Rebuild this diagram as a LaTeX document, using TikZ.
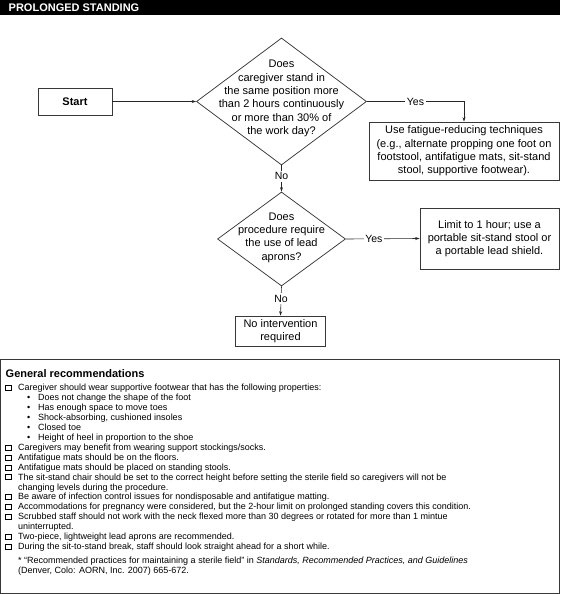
\documentclass[tikz,border=0pt]{standalone}
\usepackage{fontspec}
\setmainfont{Liberation Sans}
\usetikzlibrary{shapes.geometric,arrows.meta}
\newcommand\PSbox{\raisebox{0.6pt}{\setlength{\fboxsep}{0pt}\setlength{\fboxrule}{0.5pt}\framebox[6.5pt]{\rule{0pt}{4.5pt}}}}
\newcommand\PSsq{\makebox[13pt][l]{\PSbox}}
\newcommand\PSsub{\makebox[22pt]{}\makebox[11pt][l]{\textbullet}}
\newcommand\PScont{\makebox[13pt]{}}
\begin{document}
\begin{tikzpicture}[x=1pt,y=-1pt,
  every node/.style={inner sep=0pt},
  bx/.style={draw=black!78, line width=0.75pt, align=center, font=\fontsize{11}{13.3}\selectfont},
  dia/.style={shape=diamond, draw=black!78, line width=0.75pt},
  dtext/.style={align=center, font=\fontsize{11}{13.3}\selectfont},
  lbl/.style={fill=white, inner sep=1.5pt, font=\fontsize{10.5}{12}\selectfont},
  arr/.style={draw=black!85, line width=0.6pt, -{Stealth[length=4.5pt,width=3pt]}},
  rec/.style={anchor=base west, font=\fontsize{9}{10}\selectfont},
]
\useasboundingbox (0,0) rectangle (560,594);
% title bar
\node[fill=black, minimum width=560pt, minimum height=15pt, anchor=north west] (bar) at (0,0) {};
\node[anchor=west, text=white, font=\bfseries\fontsize{11}{13}\selectfont] (title) at (8.5,7.6) {PROLONGED STANDING};
% flowchart
\node[bx, minimum width=74pt, minimum height=27pt, font=\bfseries\fontsize{11}{13}\selectfont] (start) at (75,101.5) {Start};
\node[dia, minimum width=170pt, minimum height=127pt] (d1) at (281.5,101.5) {};
\node[dtext] (d1t) at (281.5,98.5) {Does\\caregiver stand in\\the same position more\\than 2 hours continuously\\or more than 30\% of\\the work day?};
\node[bx, minimum width=190pt, minimum height=58pt] (b1) at (464,151) {Use fatigue-reducing techniques\\(e.g., alternate propping one foot on\\footstool, antifatigue mats, sit-stand\\stool, supportive footwear).};
\node[dia, minimum width=128pt, minimum height=94pt] (d2) at (281.5,239) {};
\node[dtext] (d2t) at (281.5,237.5) {Does\\procedure require\\the use of lead\\aprons?};
\node[bx, minimum width=139pt, minimum height=61pt] (b2) at (489.5,238.5) {Limit to 1 hour; use a\\portable sit-stand stool or\\a portable lead shield.};
\node[bx, minimum width=90pt, minimum height=30pt] (b3) at (280.5,331) {No intervention\\required};
% connectors
\draw[arr] (start.east) -- (d1.west);
\draw[arr] (d1.east) -- node[lbl] (yes1) {Yes} (d1.east -| b1.north) -- (b1.north);
\draw[arr] (d1.south) -- node[lbl, pos=0.42] (no1) {No} (d2.north);
\draw[arr] (d2.east) -- node[lbl, pos=0.38] (yes2) {Yes} (b2.west);
\draw[arr] (d2.south) -- node[lbl, pos=0.42] (no2) {No} (b3.north);
% general recommendations
\node[draw=black!78, line width=0.75pt, minimum width=558.5pt, minimum height=234pt, anchor=north west] (gen) at (0.5,359) {};
\node[anchor=base west, font=\bfseries\fontsize{11}{13}\selectfont] (genh) at (5.5,377) {General recommendations};
\node[rec] (r0) at (5,390.5) {\PSsq Caregiver should wear supportive footwear that has the following properties:};
\node[rec] (r1) at (5,400.45) {\PSsub Does not change the shape of the foot};
\node[rec] (r2) at (5,410.4) {\PSsub Has enough space to move toes};
\node[rec] (r3) at (5,420.35) {\PSsub Shock-absorbing, cushioned insoles};
\node[rec] (r4) at (5,430.3) {\PSsub Closed toe};
\node[rec] (r5) at (5,440.25) {\PSsub Height of heel in proportion to the shoe};
\node[rec] (r6) at (5,450.2) {\PSsq Caregivers may benefit from wearing support stockings/socks.};
\node[rec] (r7) at (5,460.15) {\PSsq Antifatigue mats should be on the floors.};
\node[rec] (r8) at (5,470.1) {\PSsq Antifatigue mats should be placed on standing stools.};
\node[rec] (r9) at (5,480.05) {\PSsq The sit-stand chair should be set to the correct height before setting the sterile field so caregivers will not be};
\node[rec] (r10) at (5,490.0) {\PScont changing levels during the procedure.};
\node[rec] (r11) at (5,499.95) {\PSsq Be aware of infection control issues for nondisposable and antifatigue matting.};
\node[rec] (r12) at (5,509.9) {\PSsq Accommodations for pregnancy were considered, but the 2-hour limit on prolonged standing covers this condition.};
\node[rec] (r13) at (5,519.85) {\PSsq Scrubbed staff should not work with the neck flexed more than 30 degrees or rotated for more than 1 mintue};
\node[rec] (r14) at (5,529.8) {\PScont uninterrupted.};
\node[rec] (r15) at (5,539.75) {\PSsq Two-piece, lightweight lead aprons are recommended.};
\node[rec] (r16) at (5,549.7) {\PSsq During the sit-to-stand break, staff should look straight ahead for a short while.};
\node[rec] (f1) at (5,563.5) {\PScont * “Recommended practices for maintaining a sterile field” in \textit{Standards, Recommended Practices, and Guidelines}};
\node[rec] (f2) at (5,573.5) {\PScont (Denver, Colo: AORN, Inc. 2007) 665-672.};
\end{tikzpicture}
\end{document}
